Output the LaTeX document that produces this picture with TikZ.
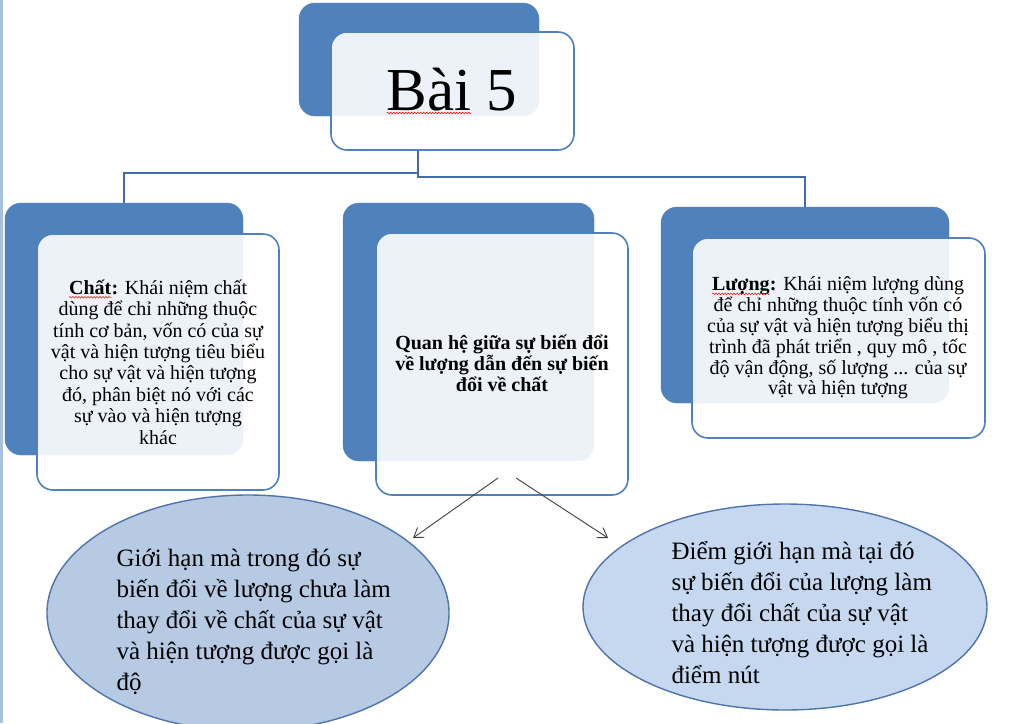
\documentclass[tikz,border=0pt]{standalone}
\usepackage{fontspec}
\setmainfont{Liberation Serif}
\usetikzlibrary{shapes.geometric,arrows.meta,decorations.pathmorphing}

\definecolor{boxblue}{RGB}{79,129,189}
\definecolor{lineblue}{RGB}{68,108,168}
\definecolor{bubbleleft}{RGB}{182,202,228}
\definecolor{bubbleright}{RGB}{198,216,240}
\definecolor{edgeblue}{RGB}{78,116,170}
\definecolor{arrowgray}{RGB}{64,64,64}

\newcommand\spellwave[1]{\tikz[baseline=(sw.base)]{\node[inner sep=0pt, outer sep=0pt, font=, text width=, align=none] (sw) {#1};
  \draw[red, line width=0.5pt, decorate, decoration={snake, amplitude=0.8pt, segment length=3pt}] ([yshift=-3pt]sw.base west) -- ([yshift=-3pt]sw.base east);}}

\tikzset{
  backbox/.style={draw=boxblue, fill=boxblue, rounded corners=16pt, inner sep=0pt},
  frontbox/.style={draw=boxblue, line width=1.6pt, fill=white, fill opacity=0.9, rounded corners=16pt, inner sep=0pt},
  boxtext/.style={align=center, font=\fontsize{20}{21.4}\selectfont},
  bubble/.style={ellipse, draw=edgeblue, line width=1.4pt, inner sep=0pt},
  bubbletext/.style={align=left, anchor=west, font=\fontsize{25}{31}\selectfont},
  link/.style={draw=lineblue, line width=1.8pt},
  pointer/.style={-{Straight Barb[length=9pt,width=12pt]}, draw=arrowgray, line width=0.9pt},
}

\begin{document}
\begin{tikzpicture}[x=1pt, y=-1pt]
\useasboundingbox (0,0) rectangle (1024,723);
\fill[white] (0,0) rectangle (1024,723);
\fill[boxblue!50] (0,0) rectangle (3,723);

% title
\node[backbox, minimum width=240pt, minimum height=113pt] (titleback) at (419,59.5) {};
\node[frontbox, minimum width=243pt, minimum height=118pt] (title) at (452.5,91) {};
\node[anchor=base, font=\fontsize{61}{61}\selectfont] (titletext) at (452,110) {\spellwave{Bài} 5};

% left box
\node[backbox, minimum width=238pt, minimum height=252pt] (chatback) at (124,329) {};
\node[frontbox, minimum width=242pt, minimum height=256pt] (chat) at (158,362) {};
\node[boxtext] (chattext) at (158,362) {\spellwave{\textbf{Chất}}\textbf{:} Khái niệm chất\\dùng để chỉ những thuộc\\tính cơ bản, vốn có của sự\\vật và hiện tượng tiêu biểu\\cho sự vật và hiện tượng\\đó, phân biệt nó với các\\sự vào và hiện tượng\\khác};

% middle box
\node[backbox, minimum width=251pt, minimum height=258pt] (quanheback) at (468.5,332) {};
\node[frontbox, minimum width=252pt, minimum height=262pt] (quanhe) at (502,364) {};
\node[boxtext, font=\bfseries\fontsize{20}{21}\selectfont] (quanhetext) at (502,363) {Quan hệ giữa sự biến đổi\\về lượng dẫn đến sự biến\\đổi về chất};

% right box
\node[backbox, minimum width=288pt, minimum height=196pt] (luongback) at (805,305) {};
\node[frontbox, minimum width=293pt, minimum height=200pt] (luong) at (838.5,338) {};
\node[boxtext, font=\fontsize{20}{20.8}\selectfont] (luongtext) at (838,338) {\spellwave{\textbf{Lượng}}\textbf{:} Khái niệm lượng dùng\\để chỉ những thuộc tính vốn có\\của sự vật và hiện tượng biểu thị\\trình đã phát triển , quy mô , tốc\\độ vận động, số lượng ... của sự\\vật và hiện tượng};

% connectors
\coordinate (hub) at (418,177);
\draw[link] (title.south -| hub) -- (hub) -| (luongback.north);
\draw[link] ([yshift=4pt]hub) -| (chatback.north);

% ellipses
\node[bubble, fill=bubbleleft, minimum width=402pt, minimum height=236pt] (dobubble) at (248,613) {};
\node[bubbletext] (dotext) at (113,622) {Giới hạn mà trong đó sự\\biến đổi về lượng chưa làm\\thay đổi về chất của sự vật\\và hiện tượng được gọi là\\độ};
\node[bubble, fill=bubbleright, minimum width=404pt, minimum height=206pt] (nutbubble) at (785,607) {};
\node[bubbletext] (nuttext) at (668,613) {Điểm giới hạn mà tại đó\\sự biến đổi của lượng làm\\thay đổi chất của sự vật\\và hiện tượng được gọi là\\điểm nút};

% arrows
\coordinate (forkl) at (498,478);
\coordinate (forkr) at (516,478);
\coordinate (tipl) at (413,538);
\coordinate (tipr) at (608,538);
\draw[pointer] (forkl) -- (tipl);
\draw[pointer] (forkr) -- (tipr);

\end{tikzpicture}
\end{document}
